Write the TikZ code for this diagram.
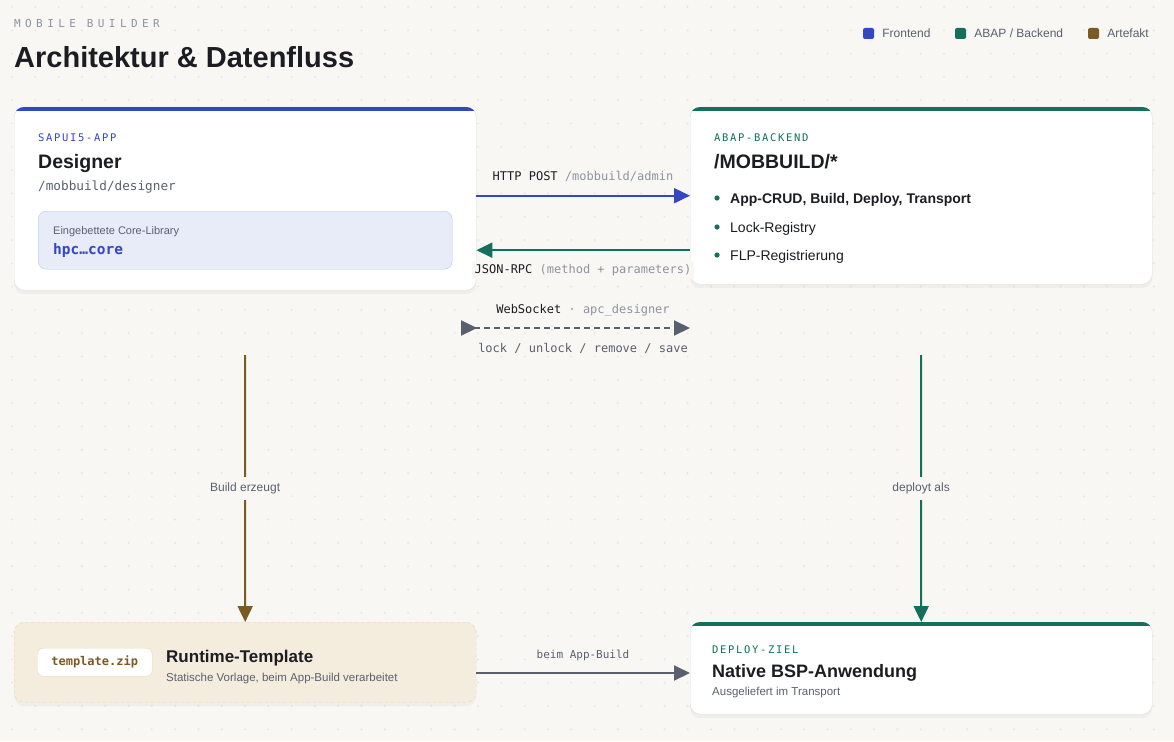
\documentclass[tikz,border=0pt]{standalone}
\usepackage{fontspec}
\setmainfont{Liberation Sans}
\newfontfamily\monofont{DejaVu Sans Mono}
\newfontfamily\kickerfont{DejaVu Sans Mono}[LetterSpace=16]
\newfontfamily\eyebrowfont{DejaVu Sans Mono}[LetterSpace=40]
\usetikzlibrary{positioning,calc,arrows.meta,shadows}

\definecolor{bgpaper}{HTML}{F8F7F3}
\definecolor{dotgrey}{HTML}{E7E5DE}
\definecolor{ink}{HTML}{1C1D22}
\definecolor{inkgrey}{HTML}{5B6070}
\definecolor{inklight}{HTML}{8E93A0}
\definecolor{cardline}{HTML}{DEDDD8}
\definecolor{cfront}{HTML}{3347C4}
\definecolor{cback}{HTML}{14705A}
\definecolor{cart}{HTML}{7B5B25}
\definecolor{cflow}{HTML}{5A5F6E}
\definecolor{corefill}{HTML}{E8EBF8}
\definecolor{coreline}{HTML}{BCC3EE}
\definecolor{tmplfill}{HTML}{F4ECDC}
\definecolor{tmplline}{HTML}{E3D5AE}
\definecolor{chipline}{HTML}{E6DAB8}

\begin{document}
\begin{tikzpicture}[x=1pt, y=-1pt,
    card/.style={fill=white, draw=cardline, rounded corners=10pt, inner sep=0pt, anchor=north west,
      drop shadow={opacity=0.07, shadow xshift=0pt, shadow yshift=-4pt}},
    txt/.style={anchor=west, inner sep=0pt, text depth=0pt, text=ink},
    kicker/.style={txt, font=\kickerfont\fontsize{10.5}{12}\selectfont},
    heading/.style={txt, font=\bfseries\fontsize{19.5}{24}\selectfont},
    small/.style={txt, text=inkgrey, font=\fontsize{11.5}{14}\selectfont},
    code/.style={txt, font=\monofont\fontsize{12.7}{15}\selectfont},
    flow/.style={line width=2pt, -{Triangle[length=16pt, width=15pt]}},
    gaplabel/.style={fill=bgpaper, inner xsep=3pt, inner ysep=6pt, text=inkgrey, font=\fontsize{12}{14}\selectfont},
    legsq/.style={rounded corners=2pt, minimum size=11pt, inner sep=0pt},
    legtxt/.style={inner sep=0pt, text depth=0pt, text=inkgrey, font=\fontsize{12}{14}\selectfont}
  ]
  % paper and dot grid
  \useasboundingbox (0,0) rectangle (1174,741);
  \fill[bgpaper] (0,0) rectangle (1174,741);
  \foreach \i in {0,...,49}
    \foreach \j in {0,...,31}
      \fill[dotgrey] (12+23.3*\i, 7+23.3*\j) circle (1pt);

  % header
  \node[txt, text=inklight, font=\eyebrowfont\fontsize{11}{13}\selectfont] (eyebrow) at (14,23) {MOBILE BUILDER};
  \node[txt, font=\bfseries\fontsize{29}{34}\selectfont] (title) at (14,57) {Architektur \& Datenfluss};

  % legend
  \node[legsq, fill=cfront] (leg-front) at (868.5,33.5) {};
  \node[legtxt, right=8pt of leg-front] {Frontend};
  \node[legsq, fill=cback] (leg-back) at (960.5,33.5) {};
  \node[legtxt, right=8pt of leg-back] {ABAP / Backend};
  \node[legsq, fill=cart] (leg-art) at (1093.5,33.5) {};
  \node[legtxt, right=8pt of leg-art] {Artefakt};

  % SAPUI5 designer
  \node[card, minimum width=462pt, minimum height=183pt] (designer) at (14,107) {};
  \begin{scope}
    \clip[rounded corners=10pt] (designer.north west) rectangle (designer.south east);
    \fill[cfront] (designer.north west) rectangle ([yshift=-4pt]designer.north east);
  \end{scope}
  \node[kicker, text=cfront] (designer-kind) at (38,138) {SAPUI5-APP};
  \node[heading] (designer-name) at (38,161) {Designer};
  \node[code, text=inkgrey] (designer-path) at (38,186) {/mobbuild/designer};
  \node[fill=corefill, draw=coreline, rounded corners=8pt, anchor=north west,
    minimum width=414pt, minimum height=58pt] (corelib) at (38,211) {};
  \node[small, font=\fontsize{11}{13}\selectfont] (corelib-kind) at (53,231) {Eingebettete Core-Library};
  \node[txt, text=cfront, font=\monofont\bfseries\fontsize{14.5}{17}\selectfont] (corelib-name) at (53,249) {hpc…core};

  % ABAP backend
  \node[card, minimum width=462pt, minimum height=177pt] (backend) at (690,107) {};
  \begin{scope}
    \clip[rounded corners=10pt] (backend.north west) rectangle (backend.south east);
    \fill[cback] (backend.north west) rectangle ([yshift=-4pt]backend.north east);
  \end{scope}
  \node[kicker, text=cback] (backend-kind) at (714,138) {ABAP-BACKEND};
  \node[heading] (backend-name) at (714,161) {/MOBBUILD/*};
  \foreach \y/\item in {198/{\bfseries App-CRUD, Build, Deploy, Transport}, 227/Lock-Registry, 255/FLP-Registrierung} {
    \fill[cback] (717,\y) circle (2.6pt);
    \node[txt, font=\fontsize{14}{16}\selectfont] at (730,\y) {\item};
  }

  % runtime template
  \node[card, fill=tmplfill, draw=tmplline, dashed, minimum width=462pt, minimum height=80pt] (template) at (14,622) {};
  \node[fill=white, draw=chipline, rounded corners=6pt, anchor=north west, minimum width=115pt, minimum height=28pt,
    text=cart, font=\monofont\bfseries\fontsize{12}{14}\selectfont] (template-file) at (37,648) {template.zip};
  \node[txt, font=\bfseries\fontsize{17}{20}\selectfont] (template-name) at (166,656) {Runtime-Template};
  \node[small] (template-note) at (166,677) {Statische Vorlage, beim App-Build verarbeitet};

  % native BSP
  \node[card, minimum width=462pt, minimum height=92pt] (native) at (690,622) {};
  \begin{scope}
    \clip[rounded corners=10pt] (native.north west) rectangle (native.south east);
    \fill[cback] (native.north west) rectangle ([yshift=-4pt]native.north east);
  \end{scope}
  \node[kicker, text=cback] (native-kind) at (712,650) {DEPLOY-ZIEL};
  \node[txt, font=\bfseries\fontsize{18}{21}\selectfont] (native-name) at (712,671) {Native BSP-Anwendung};
  \node[small] (native-note) at (712,691) {Ausgeliefert im Transport};

  % connectors
  \coordinate (rpc) at ($(backend.west)+(0,54.5)$);
  \coordinate (ws-l) at (461,328);
  \coordinate (ws-r) at (690,328);
  \coordinate (build-top) at (245,355);
  \coordinate (deploy-top) at (921,355);
  \coordinate (appbuild) at (476,673);

  \draw[flow, cfront] (designer.east |- backend.west) -- (backend.west);
  \node[inner sep=0pt, text depth=0pt, font=\monofont\fontsize{12}{14}\selectfont] (http-label) at (583,176)
    {\textcolor{ink}{HTTP POST} \textcolor{inklight}{/mobbuild/admin}};
  \draw[flow, cback] (rpc) -- (designer.east |- rpc);
  \node[fill=bgpaper, inner sep=3pt, font=\monofont\fontsize{12}{14}\selectfont] (rpc-label) at (583,270)
    {\textcolor{ink}{JSON-RPC} \textcolor{inklight}{(method + parameters)}};
  \draw[line width=2pt, cflow, dash pattern=on 6pt off 4pt,
    {Triangle[reversed, length=16pt, width=15pt]}-{Triangle[length=16pt, width=15pt]}] (ws-l) -- (ws-r);
  \node[inner sep=0pt, text depth=0pt, font=\monofont\fontsize{12}{14}\selectfont] (ws-label) at (583,309)
    {\textcolor{ink}{WebSocket} \textcolor{inklight}{· apc\_designer}};
  \node[inner sep=0pt, text depth=0pt, text=inkgrey, font=\monofont\fontsize{12}{14}\selectfont] (ws-ops) at (583,348)
    {lock / unlock / remove / save};

  \draw[flow, cart] (build-top) -- node[gaplabel] {Build erzeugt} (template.north);
  \draw[flow, cback] (deploy-top) -- node[gaplabel] {deployt als} (native.north);
  \draw[flow, cflow] (appbuild) -- (native.west |- appbuild);
  \node[inner sep=0pt, text depth=0pt, text=inkgrey, font=\monofont\fontsize{11}{13}\selectfont] (appbuild-label) at (583,654) {beim App-Build};
\end{tikzpicture}
\end{document}
